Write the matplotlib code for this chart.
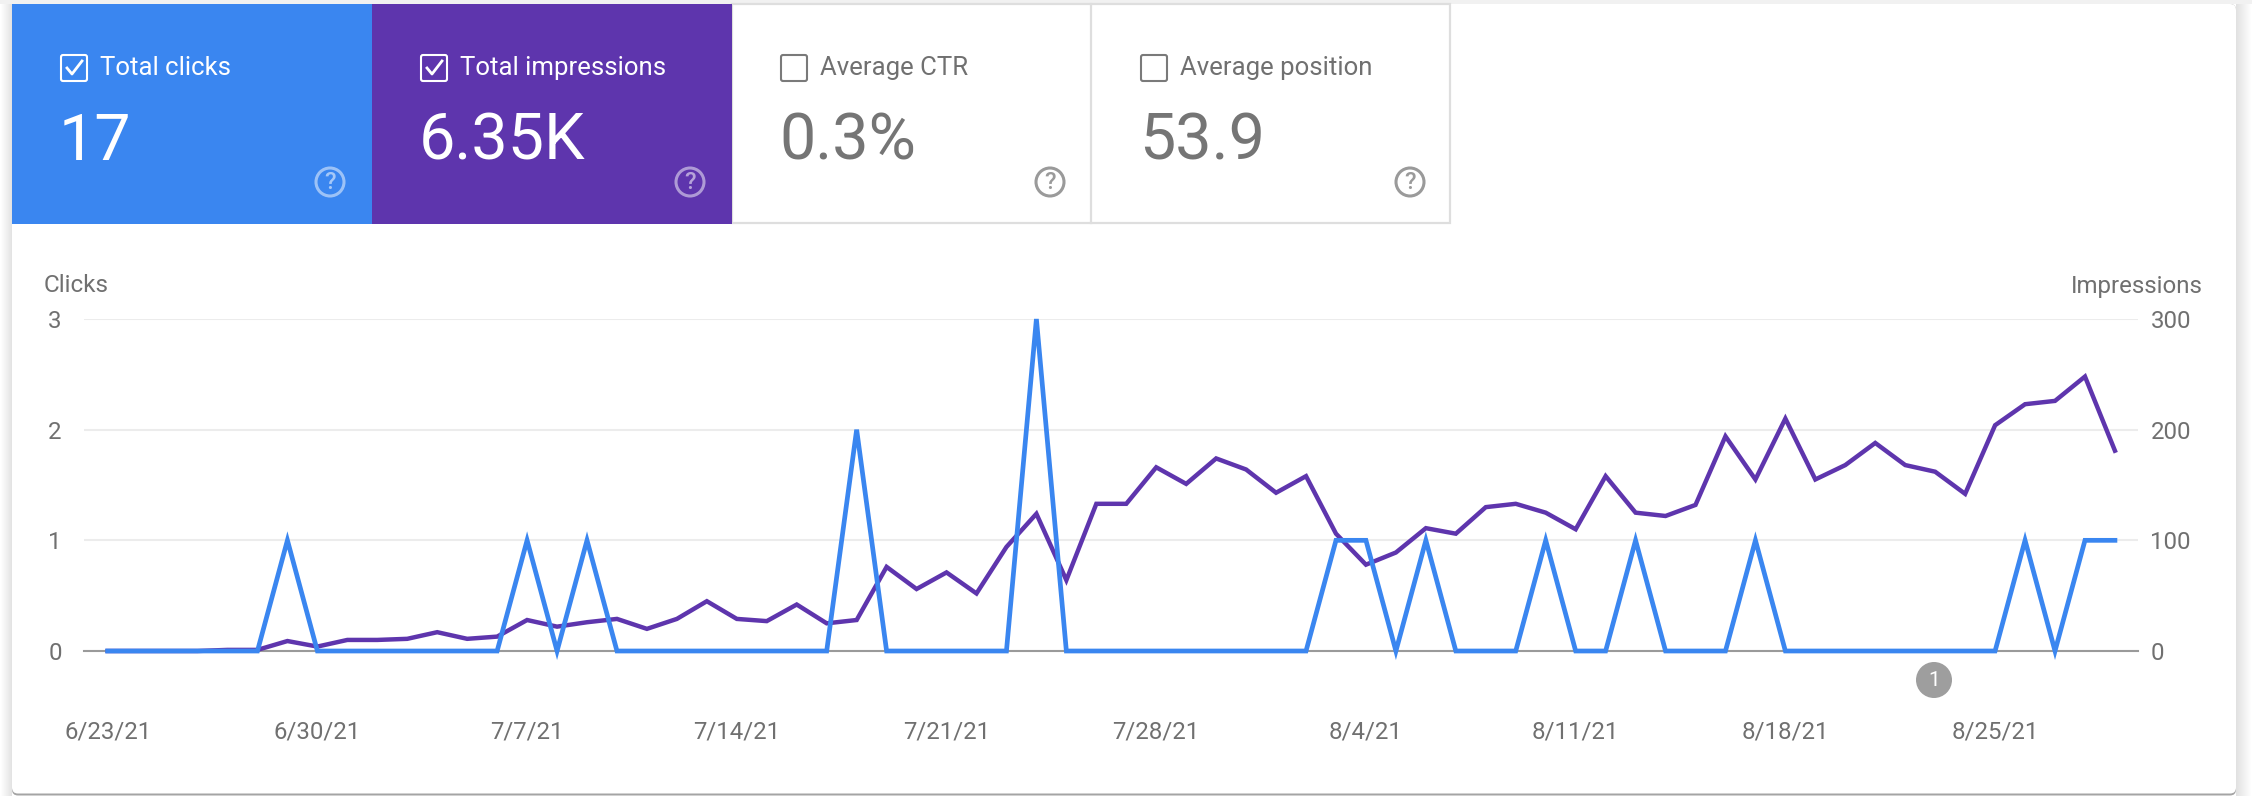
import matplotlib
matplotlib.use('Agg')
import matplotlib.pyplot as plt
import matplotlib.dates as mdates
from matplotlib.patches import Rectangle, Circle, FancyBboxPatch
import numpy as np
import pandas as pd

W, H = 2252, 796

plt.rcParams['font.family'] = ['Roboto', 'DejaVu Sans']

BLUE = '#3a86f0'
PURPLE = '#5e35ad'
GREY_TEXT = '#707070'

dates = pd.date_range('2021-06-23', '2021-08-29')

clicks = [0, 0, 0, 0, 0, 0, 1, 0, 0, 0, 0, 0, 0, 0, 1, 0, 1, 0, 0, 0,
          0, 0, 0, 0, 0, 2, 0, 0, 0, 0, 0, 3, 0, 0, 0, 0, 0, 0, 0, 0,
          0, 1, 1, 0, 1, 0, 0, 0, 1, 0, 0, 1, 0, 0, 0, 1, 0, 0, 0, 0,
          0, 0, 0, 0, 1, 0, 1, 1]
impressions = [0, 0, 0, 0, 1, 1, 9, 4, 10, 10, 11, 17, 11, 13, 28, 22, 26, 29, 20, 29,
               45, 29, 27, 42, 25, 28, 76, 56, 71, 52, 94, 124, 64, 133, 133, 166, 151, 174, 164, 143,
               158, 106, 78, 89, 111, 106, 130, 133, 125, 110, 158, 125, 122, 132, 194, 155, 210, 155, 168, 188,
               168, 162, 142, 204, 223, 226, 248, 181]

tick_dates = ['2021-06-23', '2021-06-30', '2021-07-07', '2021-07-14', '2021-07-21',
              '2021-07-28', '2021-08-04', '2021-08-11', '2021-08-18', '2021-08-25']
tick_labels = ['6/23/21', '6/30/21', '7/7/21', '7/14/21', '7/21/21',
               '7/28/21', '8/4/21', '8/11/21', '8/18/21', '8/25/21']
clicks_ticks = [0, 1, 2, 3]
impr_ticks = [0, 100, 200, 300]

card_titles = ['Total clicks', 'Total impressions', 'Average CTR', 'Average position']
card_values = ['17', '6.35K', '0.3%', '53.9']

fig = plt.figure(figsize=(W / 100, H / 100), dpi=100, facecolor='white')

# pixel canvas for the panel and the cards
bg = fig.add_axes([0, 0, 1, 1], zorder=0)
bg.axis('off')

# soft shadow round the panel
left_shadow = np.linspace(1.0, 0.89, 12).reshape(1, -1)
right_shadow = np.linspace(0.88, 1.0, 16).reshape(1, -1)
bg.imshow(left_shadow, extent=(0, 12, H, 0), cmap='gray', vmin=0, vmax=1, aspect='auto')
bg.imshow(right_shadow, extent=(2236, W, H, 0), cmap='gray', vmin=0, vmax=1, aspect='auto')
bg.set_xlim(0, W)
bg.set_ylim(H, 0)
bg.add_patch(Rectangle((0, 0), W, 4, fc='#f1f1f1', ec='none'))

bg.add_patch(FancyBboxPatch((12, 4), 2224, 791.5, boxstyle='round,pad=0,rounding_size=6',
                            fc='#a4a4a4', ec='none'))
bg.add_patch(FancyBboxPatch((12, 4), 2224, 789.5, boxstyle='round,pad=0,rounding_size=6',
                            fc='white', ec='none'))

card_x = [12, 372, 732, 1092]
card_w = 360
# card borders first, the coloured cards go on top
bg.add_patch(Rectangle((732, 4), 718, 219, fc='white', ec='#dedede', lw=1.6))
bg.plot([1091, 1091], [4, 223], color='#dedede', lw=1.6)
for i in range(4):
    x = card_x[i]
    on = i < 2
    if on:
        bg.add_patch(Rectangle((x, 4), card_w, 220, fc=[BLUE, PURPLE][i], ec='none'))
    fg = 'white' if on else GREY_TEXT
    bg.add_patch(FancyBboxPatch((x + 49, 55), 26, 26, boxstyle='round,pad=0,rounding_size=2',
                                fc='none', ec='white' if on else '#7a7a7a', lw=1.5))
    if on:
        bg.plot([x + 55, x + 60, x + 70], [68, 74, 61], color='white', lw=2)
    bg.text(x + 88, 68, card_titles[i], color=fg, fontsize=18.5, va='center', ha='left')
    bg.text(x + 47, 160, card_values[i], color='white' if on else '#757575', fontsize=46.5,
            va='baseline', ha='left')
    q = '#ffffff' if on else '#9a9a9a'
    bg.add_patch(Circle((x + 318, 182), 14, fc='none', ec=q, lw=2.2, alpha=0.5 if on else 1))
    bg.text(x + 318, 182.5, '?', color=q, fontsize=17, ha='center', va='center',
            alpha=0.55 if on else 1, fontweight='medium')

# chart
ax = fig.add_axes([84 / W, 1 - 651 / H, (2138 - 84) / W, (651 - 319) / H], zorder=2)
ax.patch.set_alpha(0)
ax2 = ax.twinx()
ax2.patch.set_alpha(0)

ax.set_ylim(0, 3)
ax2.set_ylim(0, 300)
start = mdates.date2num(dates[0])
ax.set_xlim(start - 0.79, start + 67.77)

ax.set_yticks(clicks_ticks)
ax2.set_yticks(impr_ticks)
ax.grid(axis='y', color='#ececec', lw=1.5)
ax.set_axisbelow(True)
for a in (ax, ax2):
    for s in a.spines.values():
        s.set_visible(False)
    a.spines['bottom'].set_visible(a is ax)
ax.spines['bottom'].set_color('#9a9a9a')
ax.spines['bottom'].set_linewidth(1.5)

ax2.plot(dates, impressions, color=PURPLE, lw=3.2, solid_joinstyle='miter', clip_on=False, zorder=3)
ax2.plot(dates, [c * 100 for c in clicks], color=BLUE, lw=3.4, solid_joinstyle='miter', clip_on=False, zorder=4)

ax.set_xticks(pd.to_datetime(tick_dates))
ax.set_xticklabels(tick_labels)
ax.tick_params(axis='x', length=0, pad=50, labelsize=17.3, labelcolor=GREY_TEXT)
ax.tick_params(axis='y', length=0, pad=16, labelsize=17.3, labelcolor=GREY_TEXT)
ax2.tick_params(axis='y', length=0, pad=9, labelsize=17.3, labelcolor=GREY_TEXT)

fg_ax = fig.add_axes([0, 0, 1, 1], zorder=3)
fg_ax.set_xlim(0, W)
fg_ax.set_ylim(H, 0)
fg_ax.axis('off')
fg_ax.text(44, 286, 'Clicks', color=GREY_TEXT, fontsize=17.5, va='center', ha='left')
fg_ax.text(2203, 287, 'Impressions', color=GREY_TEXT, fontsize=17.3, va='center', ha='right')
fg_ax.add_patch(Circle((1934, 680), 18, fc='#9e9e9e', ec='none'))
fg_ax.text(1934, 680, '1', color='white', fontsize=15, ha='center', va='center')

fig.savefig('out.png', dpi=100, facecolor=fig.get_facecolor())
